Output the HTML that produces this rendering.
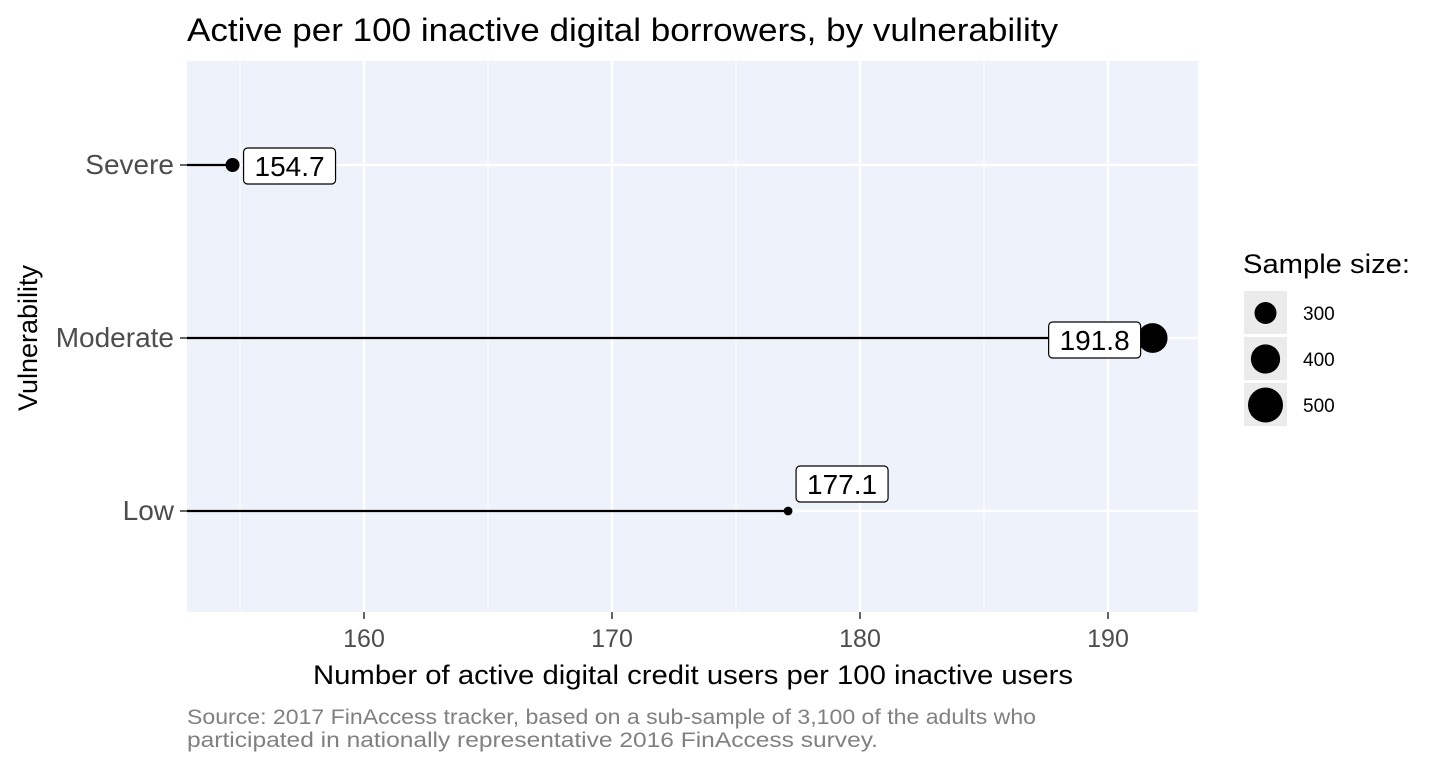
<!DOCTYPE html>
<html><head><meta charset="utf-8"><style>
body{margin:0;background:#fff;font-family:"Liberation Sans",Arial,sans-serif}
</style></head><body>
<svg width="1440" height="768" xmlns="http://www.w3.org/2000/svg" font-family="Liberation Sans, Arial, sans-serif">
<text x="187" y="41" font-size="32" textLength="871" lengthAdjust="spacingAndGlyphs" fill="#000">Active per 100 inactive digital borrowers, by vulnerability</text>
<rect x="187" y="61" width="1011" height="551" fill="#eef3fb"/>
<g id="grid"></g>
<g id="marks"></g>
<g id="axes"></g>
<text x="313" y="684" font-size="27" textLength="760" lengthAdjust="spacingAndGlyphs">Number of active digital credit users per 100 inactive users</text>
<text transform="translate(37,338) rotate(-90)" font-size="27" text-anchor="middle">Vulnerability</text>
<text x="187" y="724" font-size="21" textLength="849" lengthAdjust="spacingAndGlyphs" fill="#808080">Source: 2017 FinAccess tracker, based on a sub-sample of 3,100 of the adults who</text>
<text x="187" y="747" font-size="21" textLength="691" lengthAdjust="spacingAndGlyphs" fill="#808080">participated in nationally representative 2016 FinAccess survey.</text>
<g id="legend">
<text x="1243" y="273" font-size="27" textLength="167" lengthAdjust="spacingAndGlyphs">Sample size:</text>
</g>
</svg>
<script>
const categories=["Severe","Moderate","Low"];
const values=[154.7,191.8,177.1];
const samples=[222,410,190];
const xTicks=[160,170,180,190];
const legendSizes=[300,400,500];
const NS="http://www.w3.org/2000/svg";
function X(v){return 364+(v-160)*24.8;}
function Y(i){return 165+i*173;}
function R(n){return Math.sqrt(Math.max(16,121+0.925*(n-300)));}
function mk(t,a,p){const e=document.createElementNS(NS,t);for(const k in a)e.setAttribute(k,a[k]);p.appendChild(e);return e;}
const grid=document.getElementById('grid'),marks=document.getElementById('marks'),axes=document.getElementById('axes'),legend=document.getElementById('legend');
for(let v=155;v<=195;v+=5){const x=X(v);if(x<187||x>1198)continue;
const l=mk('line',{x1:x,x2:x,y1:61,y2:612,stroke:'#fff','stroke-width':v%10===0?2.2:1.1},grid);
}
categories.forEach((c,i)=>{const l=mk('line',{x1:187,x2:1198,y1:Y(i),y2:Y(i),stroke:'#fff','stroke-width':2.2},grid);
});
xTicks.forEach(v=>{const x=X(v);
const t=mk('line',{x1:x,x2:x,y1:612,y2:619,stroke:'#333','stroke-width':1.5},axes);

const tx=mk('text',{x:x,y:647,'font-size':25,'text-anchor':'middle',fill:'#4d4d4d'},axes);tx.textContent=v;
});
categories.forEach((c,i)=>{const y=Y(i);
const t=mk('line',{x1:180,x2:187,y1:y,y2:y,stroke:'#333','stroke-width':1.5},axes);

const tx=mk('text',{x:174,y:y+9,'font-size':28,'text-anchor':'end',fill:'#4d4d4d'},axes);tx.textContent=c;

const x=X(values[i]);
const ln=mk('line',{x1:187,x2:x,y1:y,y2:y,stroke:'#000','stroke-width':2.2},marks);

const pt=mk('circle',{cx:x,cy:y,r:R(samples[i]),fill:'#000'},marks);

let lx,ly,w=92,h=36;
if(i===0){lx=x+11;ly=y-17;}else if(i===1){lx=x-104;ly=y-16;}else{lx=x+8;ly=y-45;}
const g=mk('g',{},marks);
mk('rect',{x:lx,y:ly,width:w,height:h,rx:4,fill:'#fff',stroke:'#000','stroke-width':1.2},g);
const vt=mk('text',{x:lx+w/2,y:ly+28,'font-size':28,'text-anchor':'middle'},g);vt.textContent=values[i].toFixed(1);
});
legendSizes.forEach((n,i)=>{const cy=313+i*46;
const g=mk('g',{},legend);
mk('rect',{x:1244,y:cy-22,width:43,height:43,fill:'#ebebeb'},g);
mk('circle',{cx:1265.5,cy:cy,r:R(n),fill:'#000'},g);
const t=mk('text',{x:1303,y:cy+7,'font-size':19},g);t.textContent=n;});
</script>
</body></html>
